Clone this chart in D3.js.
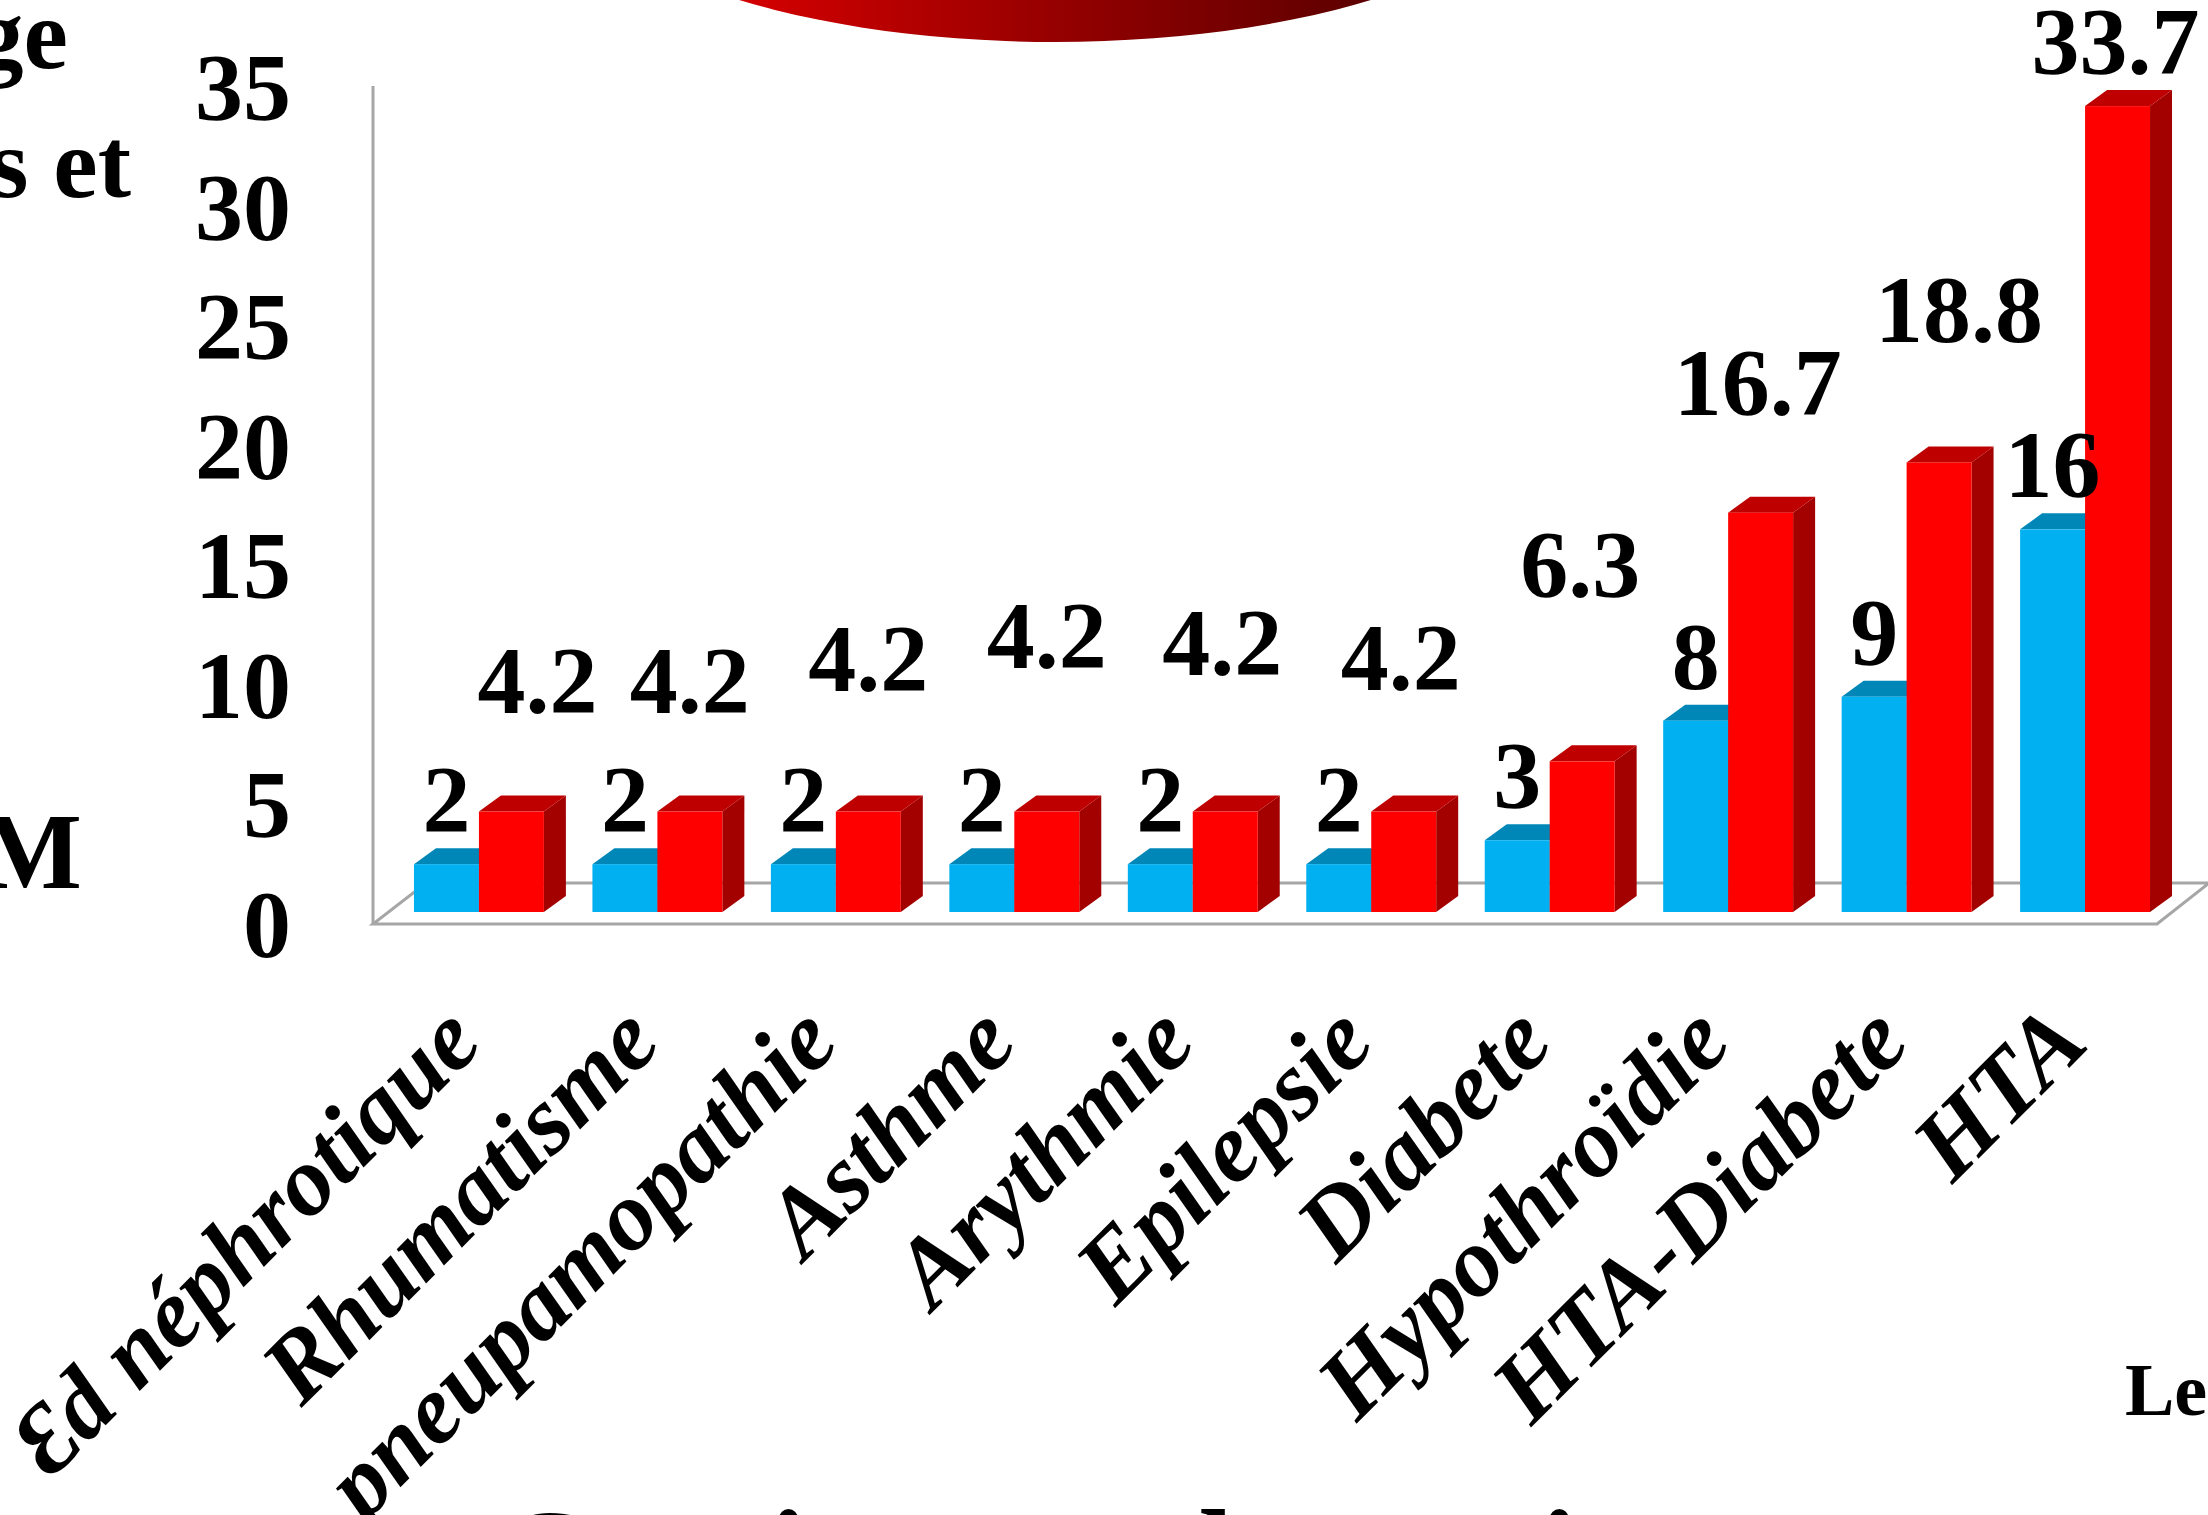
<!DOCTYPE html>
<html>
<head>
<meta charset="utf-8">
<script src="https://cdn.jsdelivr.net/npm/d3@7"></script>
<style>
  body { margin: 0; background: #fff; }
  svg { display: block; }
  text { font-family: 'Liberation Serif', 'Times New Roman', serif; font-weight: bold; fill: #000; }
</style>
</head>
<body>
<div id="chart"></div>
<script>
const categories = ['Ɛd néphrotique', 'Rhumatisme', 'pneupamopathie', 'Asthme', 'Arythmie',
                    'Epilepsie', 'Diabete', 'Hypothroïdie', 'HTA-Diabete', 'HTA'];
const blueValues = [2, 2, 2, 2, 2, 2, 3, 8, 9, 16];
const redValues  = [4.2, 4.2, 4.2, 4.2, 4.2, 4.2, 6.3, 16.7, 18.8, 33.7];
const yTicks     = [0, 5, 10, 15, 20, 25, 30, 35];

const WIDTH  = 2208;
const HEIGHT = 1515;
const DEPTH  = { dx: 22, dy: 16 };     // bar depth
const FLOOR  = { dx: 52, dy: 41 };     // floor depth
const BAR_SHIFT = -12;                 // bars sit a little behind the front edge

// hand placed value labels of the red series (px: sideways, lift above bar top)
const redLabelDx   = [26, 0, 0, 0, -3, -3, -2, -3, 20, -2];
const redLabelLift = [99, 99, 121, 144, 137, 122, 164, 98, 120, 32];

const svg = d3.select('#chart').append('svg')
  .attr('width', WIDTH)
  .attr('height', HEIGHT);

const x  = d3.scaleBand().domain(categories).range([389.7, 2174.3]).paddingInner(0.272).paddingOuter(0.136);
const xs = d3.scaleBand().domain(['blue', 'red']).range([0, x.bandwidth()]);
const y  = d3.scaleLinear().domain([0, 35]).range([924, 87]);

// red shape at top of the slide
const defs = svg.append('defs');
const grad = defs.append('linearGradient').attr('id', 'topGrad');
grad.append('stop').attr('offset', '0%').attr('stop-color', '#ff2020');
grad.append('stop').attr('offset', '20%').attr('stop-color', '#d20000');
grad.append('stop').attr('offset', '55%').attr('stop-color', '#8c0000');
grad.append('stop').attr('offset', '85%').attr('stop-color', '#560000');
grad.append('stop').attr('offset', '100%').attr('stop-color', '#400000');
svg.append('ellipse')
  .attr('cx', 1055).attr('cy', -150)
  .attr('rx', 506).attr('ry', 192)
  .attr('fill', 'url(#topGrad)');

// floor and vertical axis
const x0 = 373, x1 = 2157, yF = y(0);
svg.append('path')
  .attr('d', 'M' + x0 + ',' + yF + 'L' + x1 + ',' + yF + 'L' + (x1 + FLOOR.dx) + ',' + (yF - FLOOR.dy) +
             'L' + (x0 + FLOOR.dx + 1) + ',' + (yF - FLOOR.dy) + 'Z')
  .attr('fill', 'none')
  .attr('stroke', '#a6a6a6')
  .attr('stroke-width', 3);
svg.append('line')
  .attr('x1', x0).attr('x2', x0)
  .attr('y1', y(35) - 1).attr('y2', yF)
  .attr('stroke', '#a6a6a6')
  .attr('stroke-width', 3);

// y tick labels
svg.append('g').selectAll('text')
  .data(yTicks)
  .join('text')
    .attr('x', 291)
    .attr('y', d => y(d) + 33)
    .attr('text-anchor', 'end')
    .style('font-size', '96px')
    .text(d => d);

// 3D bars
const series = [
  { key: 'blue', values: blueValues, front: '#00b0f0', top: '#0087b8', side: '#0078a6' },
  { key: 'red',  values: redValues,  front: '#ff0000', top: '#bf0000', side: '#a30000' }
];
const base = y(0) + BAR_SHIFT;

series.forEach(s => {
  const g = svg.append('g').attr('class', 'bars-' + s.key);
  const bars = g.selectAll('g')
    .data(categories.map((c, i) => ({ c: c, v: s.values[i] })))
    .join('g');
  const left  = d => x(d.c) + xs(s.key);
  const right = d => left(d) + xs.bandwidth();
  const top   = d => y(d.v) + BAR_SHIFT;

  bars.append('path')
    .attr('fill', s.side)
    .attr('d', d => 'M' + right(d) + ',' + top(d) + 'L' + (right(d) + DEPTH.dx) + ',' + (top(d) - DEPTH.dy) +
                    'L' + (right(d) + DEPTH.dx) + ',' + (base - DEPTH.dy) + 'L' + right(d) + ',' + base + 'Z');
  bars.append('path')
    .attr('fill', s.top)
    .attr('d', d => 'M' + left(d) + ',' + top(d) + 'L' + (left(d) + DEPTH.dx) + ',' + (top(d) - DEPTH.dy) +
                    'L' + (right(d) + DEPTH.dx) + ',' + (top(d) - DEPTH.dy) + 'L' + right(d) + ',' + top(d) + 'Z');
  bars.append('rect')
    .attr('fill', s.front)
    .attr('x', left)
    .attr('y', top)
    .attr('width', xs.bandwidth())
    .attr('height', d => base - top(d));
});

// value labels
svg.append('g').selectAll('text')
  .data(blueValues)
  .join('text')
    .attr('x', (d, i) => x(categories[i]) + xs('blue') + xs.bandwidth() / 2)
    .attr('y', d => y(d) + BAR_SHIFT - 32)
    .attr('text-anchor', 'middle')
    .style('font-size', '96px')
    .text(d => d);

svg.append('g').selectAll('text')
  .data(redValues)
  .join('text')
    .attr('x', (d, i) => x(categories[i]) + xs('red') + xs.bandwidth() / 2 + redLabelDx[i])
    .attr('y', (d, i) => y(d) + BAR_SHIFT - redLabelLift[i])
    .attr('text-anchor', 'middle')
    .style('font-size', '96px')
    .text(d => d);

// category labels
svg.append('g').selectAll('text')
  .data(categories)
  .join('text')
    .attr('transform', d => 'translate(' + (x(d) + x.bandwidth() / 2 + 6) + ',1046) rotate(-45)')
    .attr('text-anchor', 'end')
    .style('font-size', '98px')
    .style('font-style', 'italic')
    .text(d => d);

// cut off slide texts
svg.append('text').attr('x', 68).attr('y', 68).attr('text-anchor', 'end')
  .style('font-size', '100px').text('Pourcentage');
svg.append('text').attr('x', 131).attr('y', 197).attr('text-anchor', 'end')
  .style('font-size', '100px').text('patients et');
svg.append('text').attr('x', 82).attr('y', 888).attr('text-anchor', 'end')
  .style('font-size', '108px').text('DM');
svg.append('text').attr('x', 2125).attr('y', 1415)
  .style('font-size', '74px').text('Le');
svg.append('text').attr('x', 500).attr('y', 1596)
  .style('font-size', '125px').text('Coexistence des patients');
</script>
</body>
</html>
